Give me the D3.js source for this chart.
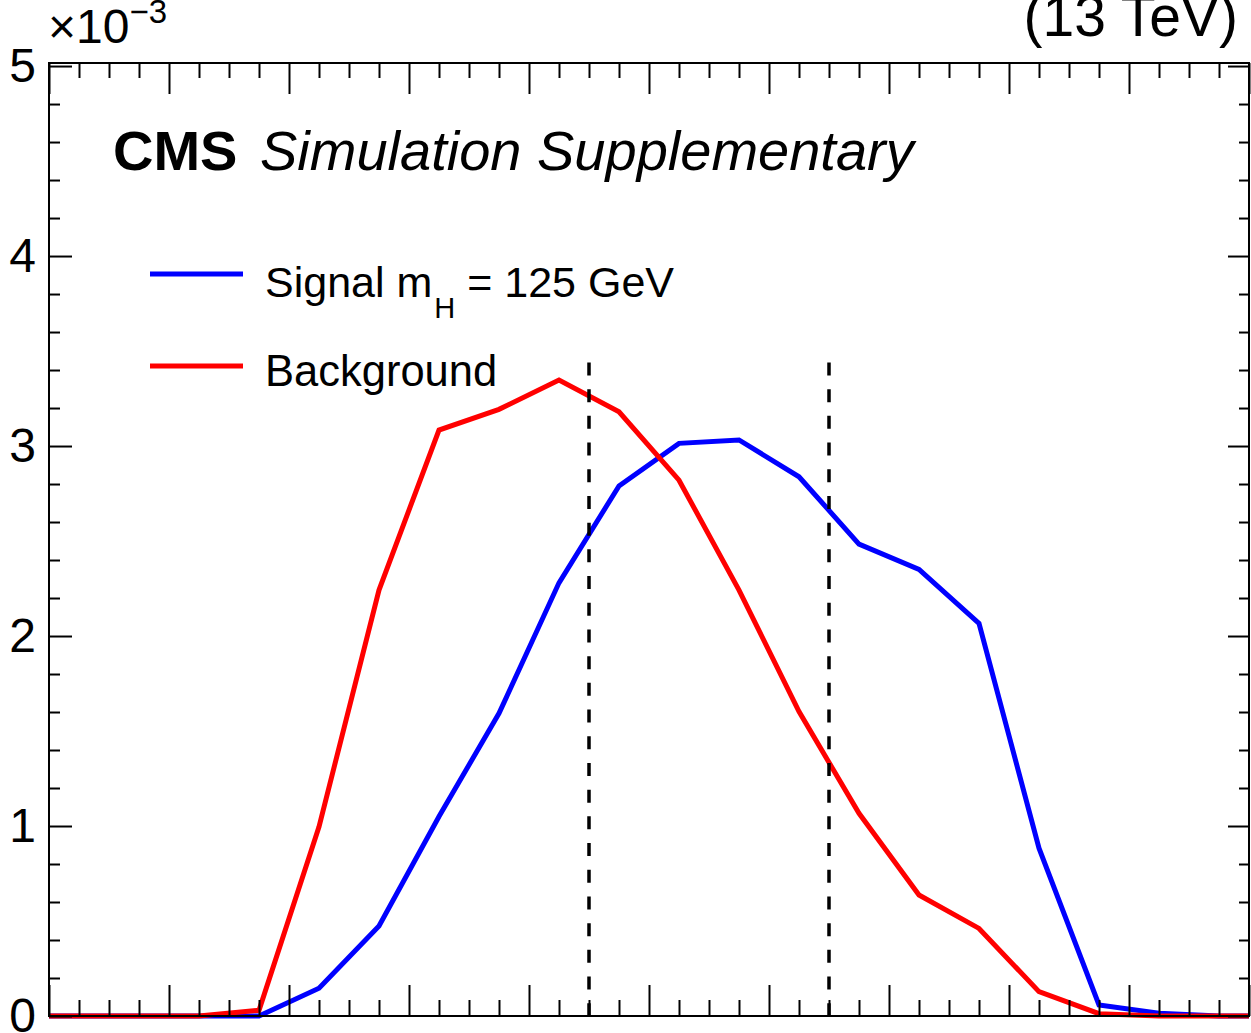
<!DOCTYPE html>
<html>
<head>
<meta charset="utf-8">
<script src="https://cdn.jsdelivr.net/npm/d3@7"></script>
<style>
  html, body { margin: 0; padding: 0; background: #fff; }
  svg { display: block; }
  text { font-family: "Liberation Sans", Arial, Helvetica, sans-serif; fill: #000; }
</style>
</head>
<body>
<svg id="chart" width="1251" height="1033"></svg>
<script>
// ---- data (values in units of 1e-3) ----
const binCenters = [0.25, 0.75, 1.25, 1.75, 2.25, 2.75, 3.25, 3.75, 4.25, 4.75,
                    5.25, 5.75, 6.25, 6.75, 7.25, 7.75, 8.25, 8.75, 9.25, 9.75];
const signalValues = [0, 0, 0, 0, 0.146, 0.474, 1.05, 1.593, 2.28, 2.79,
                      3.014, 3.032, 2.838, 2.484, 2.351, 2.067, 0.883, 0.058, 0.015, 0];
const backgroundValues = [0, 0, 0, 0.03, 0.996, 2.242, 3.084, 3.193, 3.347, 3.18,
                          2.82, 2.242, 1.602, 1.067, 0.637, 0.461, 0.128, 0.012, 0, 0];
const cutPositions = [4.5, 6.5];
const cutHeight = 3.44;
const yMajorTicks = [0, 1, 2, 3, 4, 5];
const yTickLabels = ["0", "1", "2", "3", "4", "5"];
const xDomain = [0, 10];
const yDomain = [0, 5.016];

const svg = d3.select("#chart");
svg.append("rect").attr("width", 1251).attr("height", 1033).attr("fill", "#fff");

const L = 49, R = 1249, T = 63, B = 1016;
const x = d3.scaleLinear().domain(xDomain).range([L, R]);
const y = d3.scaleLinear().domain(yDomain).range([B, T]);

// minor tick values
const xMajor = d3.range(xDomain[0], xDomain[1] + 0.001, 1);
const xMinor = d3.range(xDomain[0], xDomain[1] + 0.001, 0.25).filter(v => Math.abs(v - Math.round(v)) > 1e-6);
const yMinor = d3.range(0, 5.001, 0.2).filter(v => Math.abs(v - Math.round(v)) > 1e-6);

// ---- curves ----
function series(vals) {
  const pts = binCenters.map((c, i) => [c, vals[i]]);
  return [[xDomain[0], vals[0]], ...pts, [xDomain[1], vals[vals.length - 1]]];
}
const line = d3.line().x(d => x(d[0])).y(d => y(d[1]));

svg.append("path").datum(series(signalValues))
  .attr("d", line).attr("fill", "none").attr("stroke", "#0000ff")
  .attr("stroke-width", 5).attr("stroke-linejoin", "miter");
svg.append("path").datum(series(backgroundValues))
  .attr("d", line).attr("fill", "none").attr("stroke", "#ff0000")
  .attr("stroke-width", 5).attr("stroke-linejoin", "miter");

// ---- dashed cut lines ----
svg.selectAll("line.cut").data(cutPositions).enter().append("line")
  .attr("class", "cut")
  .attr("x1", d => x(d)).attr("x2", d => x(d))
  .attr("y1", y(cutHeight)).attr("y2", y(0))
  .attr("stroke", "#000").attr("stroke-width", 3.5)
  .attr("stroke-dasharray", "13,13.7");

// ---- axes ----
function styleAxis(g) {
  g.select(".domain").remove();
  g.selectAll(".tick line").attr("stroke", "#000").attr("stroke-width", 2);
}
// left
svg.append("g").attr("transform", `translate(${L},0)`)
  .call(d3.axisLeft(y).tickValues(yMajorTicks).tickSizeInner(-23).tickSizeOuter(0)
        .tickPadding(13).tickFormat((d, i) => yTickLabels[i]))
  .call(styleAxis)
  .call(g => g.selectAll(".tick text").attr("font-size", 48)
        .attr("font-family", "Liberation Sans, Arial, sans-serif").attr("fill", "#000"));
svg.append("g").attr("transform", `translate(${L},0)`)
  .call(d3.axisLeft(y).tickValues(yMinor).tickSizeInner(-11).tickSizeOuter(0).tickFormat(""))
  .call(styleAxis);
// right
svg.append("g").attr("transform", `translate(${R},0)`)
  .call(d3.axisRight(y).tickValues(yMajorTicks).tickSizeInner(-21).tickSizeOuter(0).tickFormat(""))
  .call(styleAxis);
svg.append("g").attr("transform", `translate(${R},0)`)
  .call(d3.axisRight(y).tickValues(yMinor).tickSizeInner(-10).tickSizeOuter(0).tickFormat(""))
  .call(styleAxis);
// bottom
svg.append("g").attr("transform", `translate(0,${B})`)
  .call(d3.axisBottom(x).tickValues(xMajor).tickSizeInner(-31).tickSizeOuter(0).tickFormat(""))
  .call(styleAxis);
svg.append("g").attr("transform", `translate(0,${B})`)
  .call(d3.axisBottom(x).tickValues(xMinor).tickSizeInner(-16).tickSizeOuter(0).tickFormat(""))
  .call(styleAxis);
// top
svg.append("g").attr("transform", `translate(0,${T})`)
  .call(d3.axisTop(x).tickValues(xMajor).tickSizeInner(-31).tickSizeOuter(0).tickFormat(""))
  .call(styleAxis);
svg.append("g").attr("transform", `translate(0,${T})`)
  .call(d3.axisTop(x).tickValues(xMinor).tickSizeInner(-15).tickSizeOuter(0).tickFormat(""))
  .call(styleAxis);

// frame
svg.append("rect").attr("x", L).attr("y", T).attr("width", R - L).attr("height", B - T)
  .attr("fill", "none").attr("stroke", "#000").attr("stroke-width", 2);

// ---- texts ----
const expo = svg.append("text").attr("x", 48).attr("y", 43).attr("font-size", 48);
expo.append("tspan").text("×10");
expo.append("tspan").attr("font-size", 33).attr("dy", -20).text("−3");

svg.append("text").attr("x", 1238).attr("y", 36).attr("text-anchor", "end")
  .attr("font-size", 57).text("(13 TeV)");

svg.append("text").attr("x", 113).attr("y", 170).attr("font-size", 56)
  .attr("font-weight", "bold").text("CMS");
svg.append("text").attr("x", 260).attr("y", 170).attr("font-size", 56)
  .attr("font-style", "italic").text("Simulation Supplementary");

// legend
const legend = [
  { color: "#0000ff", y: 274 },
  { color: "#ff0000", y: 366 }
];
svg.selectAll("line.leg").data(legend).enter().append("line")
  .attr("x1", 150).attr("x2", 243).attr("y1", d => d.y).attr("y2", d => d.y)
  .attr("stroke", d => d.color).attr("stroke-width", 5);

const sig = svg.append("text").attr("x", 265).attr("y", 297).attr("font-size", 43);
sig.append("tspan").text("Signal m");
sig.append("tspan").attr("font-size", 29).attr("dx", 2).attr("dy", 21).text("H");
sig.append("tspan").attr("dx", 0).attr("dy", -21).text(" = 125 GeV");

svg.append("text").attr("x", 265).attr("y", 386).attr("font-size", 43.5).text("Background");
</script>
</body>
</html>
